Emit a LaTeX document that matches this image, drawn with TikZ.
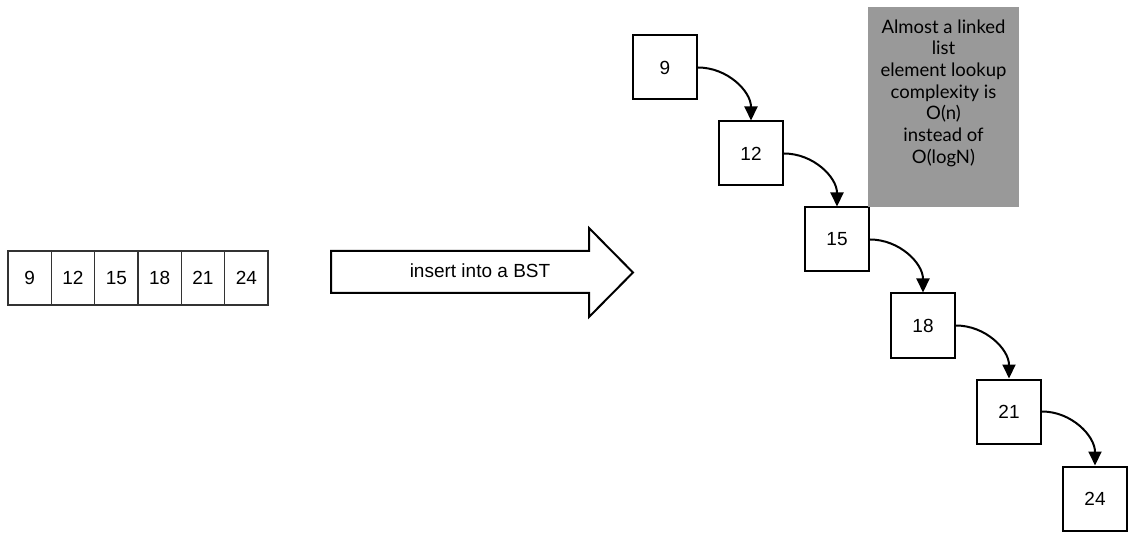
\documentclass[tikz,border=0pt]{standalone}
\usepackage{fontspec}
\setmainfont{Liberation Sans}
\newfontfamily\notefont{Lato}
\usetikzlibrary{arrows.meta}
\definecolor{notegrey}{RGB}{153,153,153}
\begin{document}
\begin{tikzpicture}[x=1pt,y=-1pt,
  cell/.style={draw=black!80,line width=1.3pt,minimum width=43.3pt,minimum height=54pt,
    inner sep=0pt,font=\fontsize{19}{22}\selectfont},
  treebox/.style={draw,line width=2pt,minimum size=64pt,inner sep=0pt,
    font=\fontsize{19}{22}\selectfont},
  link/.style={line width=2pt,-{Triangle[length=14pt,width=13pt]}},
  bigarrow/.style={draw,line width=2pt,line join=miter,fill=white},
  note/.style={fill=notegrey,minimum width=151pt,minimum height=200pt,inner sep=0pt},
  notetext/.style={align=center,inner sep=0pt,font=\notefont\fontsize{18.5}{21.7}\selectfont}
]
\useasboundingbox (0,0) rectangle (1129,534);

% the sorted input array
\foreach \v [count=\i from 0] in {9,12,15,18,21,24}
  \node[cell] (a\v) at ({8+43.33*(\i+0.5)},278) {\v};

% block arrow with its caption
\draw[bigarrow] (331,251) -- (589,251) -- (589,228) -- (633,272.5)
  -- (589,317) -- (589,293) -- (331,293) -- cycle;
\node[font=\fontsize{19}{22}\selectfont] (caption) at (480,271) {insert into a BST};

% the degenerate tree
\node[treebox] (n9)  at (665,67.5)   {9};
\node[treebox] (n12) at (751,153.5)  {12};
\node[treebox] (n15) at (837,239.5)  {15};
\node[treebox] (n18) at (923,325.5)  {18};
\node[treebox] (n21) at (1009,411.5) {21};
\node[treebox] (n24) at (1095,498.5) {24};

\foreach \p/\c in {n9/n12,n12/n15,n15/n18,n18/n21,n21/n24}
  \draw[link] (\p.east) to[out=0,in=90] (\c.north);

% remark
\node[note] (remark) at (943.5,107) {};
\node[notetext] (remarktext) at ([yshift=14pt]remark.center)
  {Almost a linked\\list\\element lookup\\complexity is\\O(n)\\instead of\\O(logN)};
\end{tikzpicture}
\end{document}
